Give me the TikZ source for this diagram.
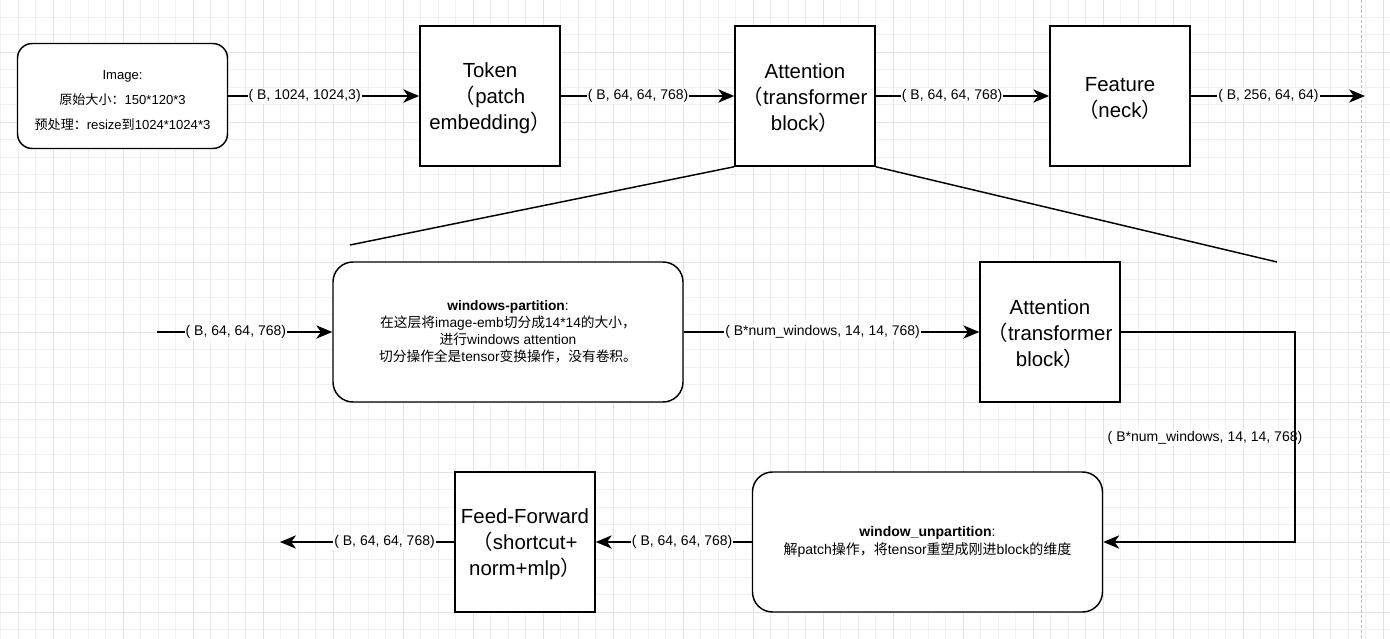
\documentclass[tikz,border=0pt]{standalone}
\usepackage{fontspec}
\setmainfont{Liberation Sans}
\newfontfamily\cjk{Noto Sans CJK SC}
\usetikzlibrary{arrows.meta}
\newcommand{\boxstrut}[1]{\rule{0pt}{#1}}

\tikzset{
  gridminor/.style={draw={rgb,255:red,240;green,240;blue,240}, line width=0.75pt},
  gridmajor/.style={draw={rgb,255:red,226;green,226;blue,226}, line width=0.75pt},
  pageline/.style={draw={rgb,255:red,190;green,190;blue,190}, line width=0.75pt, dash pattern=on 2.25pt off 1.5pt},
  blk/.style={draw, line width=1.1pt, fill=white, minimum width=105pt, minimum height=105pt, inner sep=0pt, align=center, font=\fontsize{15.3}{19.5}\selectfont},
  rblk/.style={draw, line width=1.1pt, fill=white, rounded corners=15pt, minimum width=262.5pt, minimum height=105pt, inner sep=0pt, align=center},
  conn/.style={line width=1.1pt, -{Stealth[length=12pt,width=10pt,inset=3.5pt]}},
  edge/.style={line width=1.1pt},
  lbl/.style={fill=white, inner sep=0.75pt, font=\fontsize{10.5}{12.5}\selectfont}
}

\begin{document}
\begin{tikzpicture}[x=0.75pt,y=0.75pt,yscale=-1,xscale=1]
\useasboundingbox (0,0) rectangle (1390,639);

%Background grid
\begin{scope}
\clip (0,0) rectangle (1390,639);
\fill[white] (0,0) rectangle (1390,639);
\foreach \gx in {0,...,79} \draw[gridminor] (0.5+17.5*\gx,0) -- ++(0,639);
\foreach \gy in {0,...,36} \draw[gridminor] (0,-0.5+17.5*\gy) -- ++(1390,0);
\foreach \gx in {0,...,20} \draw[gridmajor] (-17+70*\gx,0) -- ++(0,639);
\foreach \gy in {0,...,9} \draw[gridmajor] (0,-18+70*\gy) -- ++(1390,0);
\end{scope}
%Page break line
\draw[pageline] (1361,0) -- (1361,639);

%Shape: Rounded Rect [id:img]
\node[rblk, minimum width=157.5pt, minimum height=78.75pt, rounded corners=11pt, font=\fontsize{9.8}{18.75}\selectfont] (img) at (122.5,96)
  {\boxstrut{13pt}Image:\\{\cjk 原始大小：}150*120*3\\{\cjk 预处理：}resize{\cjk 到}1024*1024*3};
%Shape: Rectangle [id:token]
\node[blk] (token) at (490,96) {\boxstrut{14.5pt}Token\\{\cjk （}patch\\embedding{\cjk ）}};
%Shape: Rectangle [id:attn]
\node[blk] (attn) at (805,96) {\boxstrut{14.5pt}Attention\\{\cjk （}transformer\\block{\cjk ）}};
%Shape: Rectangle [id:feat]
\node[blk] (feat) at (1120,96) {\boxstrut{13.5pt}Feature\\{\cjk （}neck{\cjk ）}};
\coordinate (featout) at (1365,96);

%Zoom lines
\coordinate (zoomL) at (350,245);
\coordinate (zoomR) at (1277,262);
\draw[edge] (attn.south west) -- (zoomL);
\draw[edge] (attn.south east) -- (zoomR);

%Shape: Rounded Rect [id:part]
\node[rblk, font=\fontsize{10.3}{12.8}\selectfont] (part) at (508,332)
  {\textbf{windows-partition}:\\{\cjk 在这层将}image-emb{\cjk 切分成}14*14{\cjk 的大小，}\\{\cjk 进行}windows attention\\{\cjk 切分操作全是}tensor{\cjk 变换操作，没有卷积。}};
%Shape: Rectangle [id:attn2]
\node[blk] (attn2) at (1050,332) {\boxstrut{14.5pt}Attention\\{\cjk （}transformer\\block{\cjk ）}};
%Shape: Rounded Rect [id:unpart]
\node[rblk, font=\fontsize{10.5}{13.5}\selectfont] (unpart) at (927.5,542)
  {\textbf{window\_unpartition}:\\{\cjk 解}patch{\cjk 操作，将}tensor{\cjk 重塑成刚进}block{\cjk 的维度}};
%Shape: Rectangle [id:ffn]
\node[blk] (ffn) at (525,542) {\boxstrut{14.5pt}Feed-Forward\\{\cjk （}shortcut+\\norm+mlp{\cjk ）}};

\coordinate (partin) at (157,332);
\coordinate (bend) at (1295,332);
\coordinate (ffnout) at (280,542);

%Straight Lines
\draw[conn] (img) -- node[lbl, pos=0.4] {( B, 1024, 1024,3)} (token);
\draw[conn] (token) -- node[lbl, pos=0.446] {( B, 64, 64, 768)} (attn);
\draw[conn] (attn) -- node[lbl, pos=0.44] {( B, 64, 64, 768)} (feat);
\draw[conn] (feat) -- node[lbl, pos=0.446] {( B, 256, 64, 64)} (featout);
\draw[conn] (partin) -- node[lbl, pos=0.45] {( B, 64, 64, 768)} (part);
\draw[conn] (part) -- node[lbl, pos=0.47] {( B*num\_windows, 14, 14, 768)} (attn2);
% Text Node
\node[lbl] (bendlbl) at (1205,438) {( B*num\_windows, 14, 14, 768)};
\draw[conn] (attn2.east) -- (bend) |- (unpart.east);
\draw[conn] (unpart) -- node[lbl, pos=0.446] {( B, 64, 64, 768)} (ffn);
\draw[conn] (ffn) -- node[lbl, pos=0.4] {( B, 64, 64, 768)} (ffnout);

\end{tikzpicture}
\end{document}
